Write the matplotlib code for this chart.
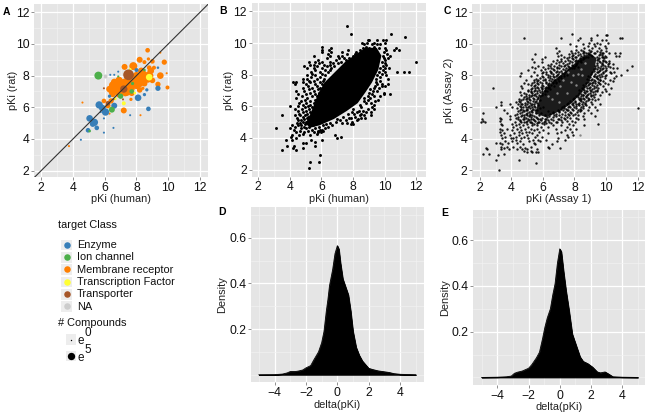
import matplotlib
matplotlib.use("Agg")
import matplotlib.pyplot as plt
from matplotlib.ticker import MultipleLocator

plt.rcParams['font.family'] = ['Liberation Sans', 'DejaVu Sans']

W, H = 649, 415
CLASS_NAMES = ["Enzyme", "Ion channel", "Membrane receptor", "Transcription Factor", "Transporter", "NA"]
CLASS_COLORS = ["#377EB8", "#4DAF4A", "#FF7F00", "#FFFF33", "#A65628", "#CCCCCC"]
SIZE_TICKS = [0, 5]

# Panel A: (pKi human, pKi rat, ln(# compounds)) by target class
enzyme_x = [5.05,5.35,5.25,5.5,4.95,5.65,5.85,6.05,6.6,6.3,8.1,8.5,8.75,9.35,8.65,8.0,9.35,6.35,6.6,6.85,5.95,6.55,5.95,4.5,7.6,5.75]
enzyme_y = [5.3,5.05,4.95,4.7,4.55,6.15,5.95,5.7,6.1,6.7,6.6,6.8,5.9,7.2,7.1,8.35,8.5,8.05,8.05,8.25,5.3,4.7,4.4,3.95,5.5,5.7]
enzyme_n = [4.1,5.0,3.3,2.0,2.0,5.0,4.1,5.0,3.3,1.0,4.1,1.0,2.0,2.6,1.0,1.5,0.6,0.4,0.4,0.4,0.4,0.4,0.4,0.4,0.4,0.4]
ion_x = [5.6,6.45,5.05,7.0,7.7,7.75,6.85,8.5]
ion_y = [8.0,5.85,4.5,6.7,7.0,7.5,7.95,8.35]
ion_n = [5.9,3.3,0.65,2.6,2.0,1.0,0.4,0.65]
memb_x = [8.7,9.75,9.5,9.35,9.95,9.5,9.9,8.2,8.5,8.75,9.0,7.8,7.25,8.8,9.1,5.95,6.2,6.4,7.2,4.6,3.75,8.25,7.65,6.3,
          6.7,7.0,7.3,7.6,8.0,6.6,7.0,6.9,7.3,7.7,8.3,8.7,8.0,7.9,8.9,8.5,7.5,7.2,6.8,8.4,
          6.45,6.5,6.8,7.1,7.4,7.8,8.2,8.1,8.5,8.6,7.6,7.0,7.3,6.6,8.4,8.8,
          6.3,6.5,6.9,8.3,8.9,9.0,8.2]
memb_y = [9.6,8.85,8.0,7.45,7.25,9.45,8.15,9.0,8.85,9.05,8.9,8.6,8.55,8.5,8.5,6.4,6.1,6.4,5.8,6.3,3.55,5.5,6.5,5.6,
          7.3,7.0,7.3,7.2,7.4,7.0,7.6,6.8,6.9,6.9,7.8,7.8,8.0,7.7,8.0,7.5,7.7,7.2,7.5,7.2,
          7.0,7.4,7.2,7.4,7.0,7.5,7.5,7.9,8.0,7.9,7.4,7.15,7.6,7.6,8.2,8.1,
          7.15,6.85,7.7,8.3,8.3,7.7,7.1]
memb_n = [2.0,2.6,4.1,2.6,1.5,0.4,0.4,3.3,1.5,1.0,2.0,5.9,3.3,2.0,1.5,2.0,2.6,2.6,3.3,0.4,0.4,0.4,1.0,0.4,
          7.0,8.1,5.9,8.1,5.9,4.1,4.1,3.3,4.1,3.3,8.1,5.9,5.0,4.1,2.6,3.3,4.1,8.1,4.1,1.0,
          4.1,5.0,6.0,6.0,7.0,6.0,5.0,6.0,6.0,5.0,7.0,7.0,5.0,4.0,3.3,3.3,
          4.0,4.0,5.0,4.0,4.0,3.0,3.0]
tf_x = [8.8,7.2,6.65,7.6,7.9]
tf_y = [7.9,6.25,6.55,8.4,6.9]
tf_n = [4.1,1.5,1.0,0.65,0.65]
trans_x = [7.5,7.2,6.2,7.15,5.95,6.55]
trans_y = [8.05,7.15,6.25,6.5,7.2,6.5]
trans_n = [10.6,5.0,2.0,0.4,0.4,0.4]
na_x = [6.0]
na_y = [7.95]
na_n = [1.5]

# Panel B: points outside the merged area, {pKi rat: [pKi human, ...]}
B_rows = {
 2.1:[5.25],2.47:[5.3,5.88],2.95:[5.9],3.26:[3.5,4.42],3.38:[4.22,4.87],3.47:[3.82,4.28,5.58],3.66:[4.87,5.03],3.72:[5.6],
 3.88:[3.78,4.13,5.33,6.06],3.97:[4.38,7.02],4.04:[4.08,7.22],4.18:[4.12,4.62,6.88,5.27],4.27:[5.71,4.83],
 4.36:[4.41,4.93,5.52,5.82,5.98],4.43:[4.63,5.14,5.77,6.12],4.51:[4.27,5.39,5.91,6.03],4.62:[3.11,4.02,4.71,5.03,5.61,6.24],
 4.71:[4.36,4.88,5.22,5.83,6.42],4.79:[4.12,4.53,4.74,5.47,6.11,6.66],4.86:[4.97,5.28,6.31,7.88,8.01],4.93:[4.47,4.66,5.13,6.53,7.31,7.62],
 5.02:[4.82,5.01,6.94,7.97],5.11:[4.55,4.72,5.22,7.21,7.53,8.23],5.18:[4.91,6.38,7.02,8.34],5.26:[4.49,5.08,7.74,7.9,8.53,8.77],
 5.33:[4.83,5.19,7.39,8.12],5.43:[3.5,4.31,4.68,4.97,8.43,8.71,9.16],5.52:[4.62,5.12,7.71,8.08,8.54],5.61:[4.87,5.27,7.93,8.24,8.82,9.12],
 5.72:[4.52,5.04,8.36,8.61],5.83:[4.31,4.79,5.21,8.03,8.93,9.31],5.94:[4.98,5.43,8.51,9.2],6.0:[4.02,4.53,5.14],6.09:[4.86,5.31,8.44,9.33],
 6.21:[4.61,5.04,5.56,8.83,9.12],6.33:[4.72,5.27,8.68,9.42],6.42:[4.97,5.62,8.98,9.61],6.53:[4.43,5.12,8.72,9.08],
 6.64:[4.81,5.41,5.73,8.93,9.33,9.72],6.78:[4.52,5.03,5.61,9.22,9.96,10.36],6.86:[5.31,5.88,9.02,9.95],6.97:[4.41,4.92,5.52,9.24,9.53],
 7.08:[5.2,5.79,9.11],7.18:[4.83,5.41,5.93,9.31,9.64],7.29:[5.13,5.72,9.42,9.83,10.02],7.41:[4.33,5.03,5.61,6.02,9.52,9.81,10.2],
 7.52:[4.18,4.42,4.83,5.31,5.9,9.46],7.61:[5.22,5.53,6.09,9.72],7.74:[4.82,5.08,5.71,6.14,9.43,10.22],7.83:[5.33,5.92,9.68],
 7.96:[5.12,5.63,6.22,9.53,10.12],8.07:[5.42,6.03,9.84],8.19:[5.34,5.91,6.41,9.62,10.0,10.81,11.21,11.56],8.3:[5.62,6.23,6.52,9.91],
 8.41:[5.11,5.52,6.04,6.61,9.74,10.04,10.3],8.53:[4.92,5.73,6.33,6.83,9.88],8.62:[5.31,5.56,6.2,6.52,10.12],8.73:[5.84,6.72,7.04,10.03],
 8.83:[5.22,5.62,6.03,6.53,7.23,9.82,12.0],8.95:[5.76,6.92,7.54,10.02],9.06:[6.33,7.12,7.43,7.72,9.94,10.21],9.2:[5.52,6.53,7.04,7.33,8.02,9.92,10.33],
 9.33:[6.42,7.62,8.13,8.33,10.14],9.46:[6.03,6.62,7.34,8.22,8.52,9.96],9.58:[6.04,6.48,7.71,8.44,10.62,10.91,10.12],9.7:[6.6,8.62,9.02,9.66,10.03,10.72],
 9.76:[6.02,8.83,9.31],9.92:[8.7,9.2,9.5,9.72],10.03:[8.58,8.92,9.33,10.02],10.17:[8.93,9.04,9.52,9.92,10.12],10.4:[11.3],10.55:[7.85,10.41],11.1:[7.6],
}
# outline of the area of panel B where points merge into solid black
B_mass_x = [5.0,5.3,5.5,5.8,6.2,6.9,7.5,8.2,8.8,9.5,9.8,9.6,9.2,8.8,8.3,7.6,6.8,5.9,5.3]
B_mass_y = [4.9,5.5,6.0,6.8,7.5,8.2,8.8,9.3,9.7,9.7,9.2,8.3,7.5,6.9,6.2,5.7,5.2,4.8,4.65]

# Panel C: {pKi assay 2: [pKi assay 1, ...]}
C_rows = {
 2.0:[3.2],2.46:[5.56],2.65:[3.02,4.47],2.96:[3.13],3.02:[2.19,2.56,3.53],3.14:[5.31,5.54,5.71,5.02],3.22:[5.22,4.82],
 3.33:[2.48,3.36,3.83,4.33,4.67,5.62,5.01],3.41:[2.38,3.52,4.84,6.42,7.11],3.5:[3.34,3.72,4.09,4.52,5.23,6.33],3.63:[3.41,4.72,5.52,6.58],
 3.74:[3.03,3.27,3.81,4.39,5.42],3.83:[3.63,4.02,4.58,5.14,5.83,6.91],3.92:[4.27,5.36,5.71,6.22,7.42],4.03:[3.44,3.98,4.11,4.64,5.09,6.98],
 4.12:[3.62,4.31,4.83,5.52,5.94,7.62],4.21:[3.32,3.93,4.47,5.02,5.62,7.56,7.91],4.33:[3.53,4.17,4.71,5.31,6.31,6.92],
 4.42:[3.29,4.51,4.92,5.11,5.74,7.13,7.83],4.53:[3.42,4.03,4.62,5.47,6.02,7.38],4.61:[3.31,3.71,4.37,4.88,5.23,5.63,6.82,7.72,8.12],
 4.72:[4.11,4.55,5.06,5.88,6.34,7.51],4.84:[3.38,4.27,4.73,5.33,5.61,6.63,7.12,7.93,8.62],4.93:[3.33,4.03,4.48,4.97,5.42,6.07,7.64,9.51],
 5.03:[2.11,2.33,4.22,4.81,5.17,5.72,6.83,7.24,8.02],5.12:[2.23,3.31,4.58,5.02,5.53,6.14,7.53,7.83],5.22:[2.17,3.36,3.92,4.41,4.73,5.28,5.84,6.23,7.04,8.21,8.63],
 5.31:[3.28,4.29,4.94,5.62,5.97,7.33,7.71,8.12],5.42:[3.91,4.59,5.12,5.43,6.42,6.83,8.53,9.32],5.52:[4.22,4.79,5.31,5.73,7.42,8.24],
 5.62:[2.22,3.72,4.53,5.02,5.58,5.91,6.62,7.81,8.63,9.03],5.73:[4.42,4.83,5.24,6.32,7.02,8.33],5.83:[3.52,4.72,5.01,5.49,7.61,8.42,8.83,9.43],
 5.92:[4.39,5.18,5.82,7.33,8.13,8.52,12.0],6.02:[3.01,4.02,4.62,4.93,5.51,6.03,7.71,8.91,9.31],6.13:[3.36,4.88,5.23,5.67,7.93,8.31,8.72],
 6.22:[3.92,4.43,4.71,5.34,8.21,8.68,9.12,9.62],6.33:[3.34,4.31,4.57,5.03,5.52,8.02,8.53,9.02],6.42:[4.62,5.21,5.81,8.33,8.83,9.33],
 6.53:[4.48,4.93,5.42,8.44,9.13,9.52],6.62:[4.82,5.13,5.71,8.23,8.72,9.22],6.73:[4.63,5.32,5.94,8.54,9.02,9.61],6.83:[4.91,5.52,6.12,8.42,8.87,9.32,10.21],
 6.94:[4.52,5.24,5.83,8.63,9.17,9.72],7.03:[5.03,5.61,6.24,8.82,9.43,10.02],7.14:[5.22,5.92,6.43,8.52,9.13,9.92],7.22:[2.81,4.71,5.51,6.13,8.93,9.51,10.31],
 7.33:[4.63,5.42,6.02,6.71,8.73,9.24,9.83],7.44:[5.03,5.72,6.33,8.91,9.62,10.13],7.53:[4.82,5.33,6.22,6.83,9.13,9.53,9.92],7.64:[5.61,6.51,7.02,9.32,9.83,10.42],
 7.73:[4.93,5.43,6.13,6.72,9.02,9.63,10.23],7.83:[5.82,6.43,7.13,9.43,9.93,10.52],7.94:[4.52,5.23,6.62,7.32,9.24,9.74,10.63],8.03:[5.62,6.31,6.92,7.52,9.53,10.03,10.95],
 8.14:[4.61,5.93,6.53,7.22,9.83,10.33],8.24:[5.43,6.22,6.81,7.62,9.42,10.23,10.53],8.34:[5.03,5.91,6.72,7.43,9.62,10.03,11.32],8.44:[5.52,6.33,7.03,7.82,9.83,10.42,10.72],
 8.54:[5.31,6.02,6.92,7.63,8.22,9.52,10.23],8.62:[5.72,6.43,7.33,8.02,9.92,11.62],8.73:[6.53,7.52,8.13,9.72,10.12,10.43],8.83:[5.42,5.93,7.03,7.83,8.42,9.63,10.03],
 8.94:[6.62,7.42,8.23,9.83,10.22],9.03:[5.31,5.92,7.13,7.93,8.53,9.52],9.14:[6.14,7.32,8.12,8.83,9.72,10.02],9.24:[6.93,7.83,8.42,9.13,9.93,10.62,10.82],
 9.34:[5.52,7.63,8.33,8.93,9.62],9.44:[6.92,8.03,8.72,9.22,9.83,10.22,10.56,10.91],9.55:[7.03,7.81,8.52,9.02,9.43,10.03],9.63:[8.12,8.41,8.92,9.71],
 9.74:[6.83,8.63,9.12,9.53,10.02],9.85:[8.13,8.83,9.32,9.91],9.97:[7.72,8.52,9.23,9.62],10.08:[8.93,9.44,10.12],10.22:[8.23,9.03,9.73,10.02],
 10.38:[4.82,7.12,8.33,9.04,10.91,11.02],10.53:[9.41,9.97,10.06],10.62:[7.86],
}
# Panel C: the denser band along the diagonal
C_band_rows = {
 4.98:[5.31,5.62,5.93,6.22,6.51],5.08:[4.62,4.91,5.23,5.78,6.07,6.38,6.91],5.17:[4.52,5.13,5.44,5.91,6.33,6.62,7.12],
 5.27:[4.83,5.06,5.37,5.72,6.13,6.52,6.97,7.42],5.37:[4.44,4.78,5.24,5.54,6.27,6.62,7.13,7.52],5.47:[4.66,4.98,5.21,6.12,6.72,7.03,7.63,7.94],
 5.57:[4.36,4.91,5.17,6.43,6.82,7.23,7.57,8.03],5.68:[4.67,5.12,5.34,6.62,7.04,7.43,7.72,8.14],5.78:[4.57,4.93,5.31,5.62,6.93,7.27,7.54,7.92,8.24],
 5.88:[4.62,5.02,5.37,7.13,7.44,7.82,8.33],5.97:[4.73,5.09,5.31,7.23,7.58,7.97,8.42],6.07:[4.52,5.12,5.41,7.34,7.67,8.11,8.54],
 6.17:[4.63,5.02,5.44,7.52,7.82,8.13,8.47],6.27:[4.84,5.16,5.62,7.62,7.91,8.27,8.64],6.38:[4.51,4.98,5.37,5.57,7.72,8.03,8.42,8.73],
 6.48:[4.72,5.14,5.62,7.93,8.27,8.62,8.93],6.58:[5.02,5.37,5.72,7.98,8.34,8.53,8.86],6.68:[4.92,5.26,5.57,5.81,8.12,8.43,8.71,9.03],
 6.78:[5.12,5.44,5.73,8.21,8.57,8.82,9.17],6.88:[4.82,5.33,5.62,5.97,8.32,8.67,8.97],6.99:[5.24,5.47,5.93,6.16,8.41,8.73,9.08,9.32],
 7.09:[5.06,5.52,5.77,6.12,8.32,8.63,8.97,9.42],7.19:[5.32,5.72,5.97,6.32,8.46,8.77,9.23],7.29:[5.62,5.87,6.22,6.42,8.62,8.97,9.37],
 7.39:[5.22,5.52,5.93,6.33,6.52,8.52,8.83,9.14,9.43],7.49:[5.62,5.97,6.42,6.66,8.71,8.97,9.33],7.59:[5.42,5.82,6.17,6.63,6.82,8.84,9.16,9.52],
 7.69:[5.71,6.02,6.36,6.77,8.92,9.27,9.62],7.79:[5.57,6.12,6.57,6.94,8.77,9.11,9.52],7.89:[6.03,6.33,6.72,7.03,8.97,9.34,9.63],
 7.99:[5.92,6.47,6.83,7.16,8.87,9.22,9.44,9.92],8.09:[6.22,6.63,6.97,7.34,9.03,9.33,9.67],8.19:[6.03,6.52,7.02,7.42,9.13,9.52,9.84],
 8.29:[6.43,6.87,7.17,7.53,9.22,9.57,9.93],8.39:[6.13,6.63,7.27,7.62,9.24,9.42,9.72],8.49:[6.53,6.92,7.44,7.73,7.97,9.33,9.62,9.97],
 8.59:[6.73,7.12,7.62,7.88,9.32,9.71,10.13],8.69:[6.32,7.03,7.43,7.82,8.07,9.44,9.83],8.79:[6.83,7.27,7.63,8.17,9.42,9.76,10.22],
 8.89:[7.12,7.72,8.02,8.33,9.53,9.93],8.99:[6.92,7.62,8.12,8.42,9.42,9.82],9.09:[7.53,7.83,8.33,8.62,9.53,9.87],9.19:[7.63,8.02,8.53,8.72,9.44,9.82],
 9.29:[7.12,7.92,8.23,8.63,9.07,9.53,9.77],9.39:[7.83,8.53,8.83,9.33,9.72],9.49:[8.23,8.62,8.97,9.63],
}
# outline of the area of panel C where points nearly merge
C_mass_x = [5.5,5.85,6.25,6.95,7.65,8.25,8.95,9.4,9.25,8.85,8.4,7.85,7.1,6.2]
C_mass_y = [5.6,6.7,7.25,7.9,8.4,9.0,9.4,9.1,8.3,7.5,6.85,6.25,5.75,5.35]
C_grey_x = [8.35,7.6,8.1,7.1,6.6,8.4,7.5,6.9,8.7,7.9,7.3,7.8,6.3,8.2,7.0,8.5]
C_grey_y = [4.25,8.2,7.4,7.3,6.5,8.4,6.9,6.9,8.8,8.0,7.7,7.6,6.7,8.1,6.3,8.0]

# Panels D and E: density of delta(pKi)
D_x = [-5,-4,-3.5,-3.2,-3,-2.7,-2.5,-2.2,-2,-1.7,-1.5,-1.2,-1,-0.85,-0.7,-0.6,-0.5,-0.3,-0.15,0,0.1,0.2,0.35,0.5,0.7,0.85,1,1.2,1.4,1.6,2,2.3,2.6,3,3.3,3.6,4,5]
D_y = [0,0.0005,0.003,0.008,0.014,0.014,0.016,0.021,0.03,0.04,0.065,0.10,0.14,0.19,0.28,0.33,0.39,0.46,0.53,0.565,0.55,0.49,0.42,0.39,0.35,0.28,0.19,0.12,0.085,0.06,0.028,0.022,0.017,0.013,0.01,0.005,0.002,0]
E_x = [-5,-4,-3.4,-3.1,-2.9,-2.7,-2.4,-2,-1.8,-1.5,-1.3,-1.1,-0.95,-0.8,-0.6,-0.45,-0.3,-0.15,0,0.1,0.25,0.4,0.6,0.8,1,1.3,1.5,1.8,2.1,2.4,2.6,2.9,3.1,3.4,4,5]
E_y = [0,0.001,0.003,0.006,0.018,0.023,0.028,0.04,0.055,0.085,0.11,0.17,0.22,0.26,0.30,0.36,0.41,0.50,0.562,0.55,0.46,0.38,0.29,0.19,0.15,0.09,0.07,0.06,0.045,0.024,0.02,0.024,0.016,0.003,0.001,0]

TICK_FS = 8.8
LABEL_FS = 7.9


def rows_to_xy(rows):
    xs, ys = [], []
    for y, row in rows.items():
        for x in row:
            xs.append(x)
            ys.append(y)
    return xs, ys


fig = plt.figure(figsize=(W / 100, H / 100), dpi=100)


def make_axes(l, r, t, b):
    ax = fig.add_axes([l / W, 1 - b / H, (r - l) / W, (b - t) / H])
    ax.px_l, ax.px_w = l, r - l
    return ax


def style(ax, xlabel, ylabel, ylabel_px, xlim, ylim, xstep, ystep, yticks=None):
    ax.set_facecolor("#E5E5E5")
    for s in ax.spines.values():
        s.set_visible(False)
    ax.set_xlim(*xlim)
    ax.set_ylim(*ylim)
    ax.xaxis.set_major_locator(MultipleLocator(xstep))
    ax.xaxis.set_minor_locator(MultipleLocator(xstep / 2))
    ax.yaxis.set_major_locator(MultipleLocator(ystep))
    ax.yaxis.set_minor_locator(MultipleLocator(ystep / 2))
    if yticks is not None:
        ax.set_yticks(yticks)
    ax.set_axisbelow(True)
    ax.grid(True, which="major", color="white", lw=0.9)
    ax.grid(True, which="minor", color="#F2F2F2", lw=0.45)
    ax.tick_params(which="major", length=2.2, width=0.6, color="#7F7F7F", labelsize=TICK_FS,
                   labelcolor="#111111", pad=1.2)
    ax.tick_params(which="minor", length=0)
    ax.set_xlabel(xlabel, fontsize=LABEL_FS, labelpad=0.5, color="#222222")
    ax.set_ylabel(ylabel, fontsize=LABEL_FS, color="#222222")
    # the label's lower edge sits on this coordinate; 5 px brings its centre to ylabel_px
    ax.yaxis.set_label_coords((ylabel_px + 5 - ax.px_l) / ax.px_w, 0.5)


# A
axA = make_axes(34, 208, 4, 177)
style(axA, "pKi (human)", "pKi (rat)", 13, (1.55, 12.5), (1.6, 12.52), 2, 2)
AREA = 5.58
for xs, ys, ns, c in [(memb_x, memb_y, memb_n, CLASS_COLORS[2]), (enzyme_x, enzyme_y, enzyme_n, CLASS_COLORS[0]),
                      (ion_x, ion_y, ion_n, CLASS_COLORS[1]), (tf_x, tf_y, tf_n, CLASS_COLORS[3]),
                      (na_x, na_y, na_n, CLASS_COLORS[5]), (trans_x, trans_y, trans_n, CLASS_COLORS[4])]:
    axA.scatter(xs, ys, s=[AREA * n for n in ns], color=c, linewidths=0, zorder=3)
axA.plot([0, 14], [0, 14], color="#333333", lw=0.8, zorder=4)

# B
axB = make_axes(251.7, 425.7, 3.5, 176.7)
style(axB, "pKi (human)", "pKi (rat)", 229, (1.6, 12.6), (1.55, 12.5), 2, 2)
axB.fill(B_mass_x, B_mass_y, color="black", lw=0, zorder=3)
bx, by = rows_to_xy(B_rows)
axB.scatter(bx, by, s=4.5, color="black", linewidths=0, zorder=3)

# C
axC = make_axes(472.3, 645, 4, 177)
style(axC, "pKi (Assay 1)", "pKi (Assay 2)", 449, (1.53, 12.47), (1.57, 12.52), 2, 2)
axC.fill(C_mass_x, C_mass_y, color="#1C1C1C", lw=0, zorder=3)
cx, cy = rows_to_xy(C_rows)
axC.scatter(cx, cy, s=3.0, color="black", alpha=0.9, linewidths=0, zorder=3)
cbx, cby = rows_to_xy(C_band_rows)
axC.scatter(cbx, cby, s=3.0, color="black", alpha=0.9, linewidths=0, zorder=3)
axC.scatter(C_grey_x, C_grey_y, s=3.0, color="#888888", linewidths=0, zorder=3)

# D, E
axD = make_axes(251, 423.7, 207.3, 382.3)
style(axD, "delta(pKi)", "Density", 222, (-5.5, 5.5), (-0.033, 0.733), 2, 0.2, yticks=[0.2, 0.4, 0.6])
axD.fill_between(D_x, D_y, 0, color="black", lw=0.6, zorder=3)
axD.plot(D_x, D_y, color="black", lw=0.6, zorder=3)

axE = make_axes(473, 645, 209.7, 385)
style(axE, "delta(pKi)", "Density", 445, (-5.55, 5.45), (-0.033, 0.733), 2, 0.2, yticks=[0.2, 0.4, 0.6])
axE.fill_between(E_x, E_y, 0, color="black", lw=0.6, zorder=3)
axE.plot(E_x, E_y, color="black", lw=0.6, zorder=3)

# Overlay in pixel coordinates for panel letters and the legends
ov = fig.add_axes([0, 0, 1, 1], zorder=10)
ov.set_xlim(0, W)
ov.set_ylim(H, 0)
ov.axis("off")
for letter, px, py in [("A", 6.5, 12), ("B", 223, 10.5), ("C", 447, 11), ("D", 222, 212), ("E", 445, 213)]:
    ov.text(px, py, letter, fontsize=7.5, fontweight="bold", va="center", ha="center", color="black")

ov.text(58.5, 224.5, "target Class", fontsize=LABEL_FS, va="center", color="#111111")
for i, (name, color) in enumerate(zip(CLASS_NAMES, CLASS_COLORS)):
    yy = 245 + i * 12.3
    ov.add_patch(plt.Rectangle((61.2, yy - 5.2), 10.6, 10.6, color="#EDEDED", lw=0))
    ov.scatter([66.5], [yy - 0.2], s=22, color=color, linewidths=0)
    ov.text(77, yy, name, fontsize=LABEL_FS, va="center", color="#111111")
ov.text(58.5, 323, "# Compounds", fontsize=LABEL_FS, va="center", color="#111111")
for n, yy, s in zip(SIZE_TICKS, [339.5, 356], [1.0, 28]):
    ov.add_patch(plt.Rectangle((65.8, yy - 5.2), 10.2, 10.4, color="#EDEDED", lw=0))
    ov.scatter([70.8], [yy], s=s, color="black", linewidths=0)
    ov.text(78, yy + 1.5, "e", fontsize=LABEL_FS + 0.6, va="center", color="#111111")
    ov.text(84.5, yy - 6.5, str(n), fontsize=LABEL_FS + 0.6, va="center", color="#111111")

fig.savefig("out.png", dpi=100)
